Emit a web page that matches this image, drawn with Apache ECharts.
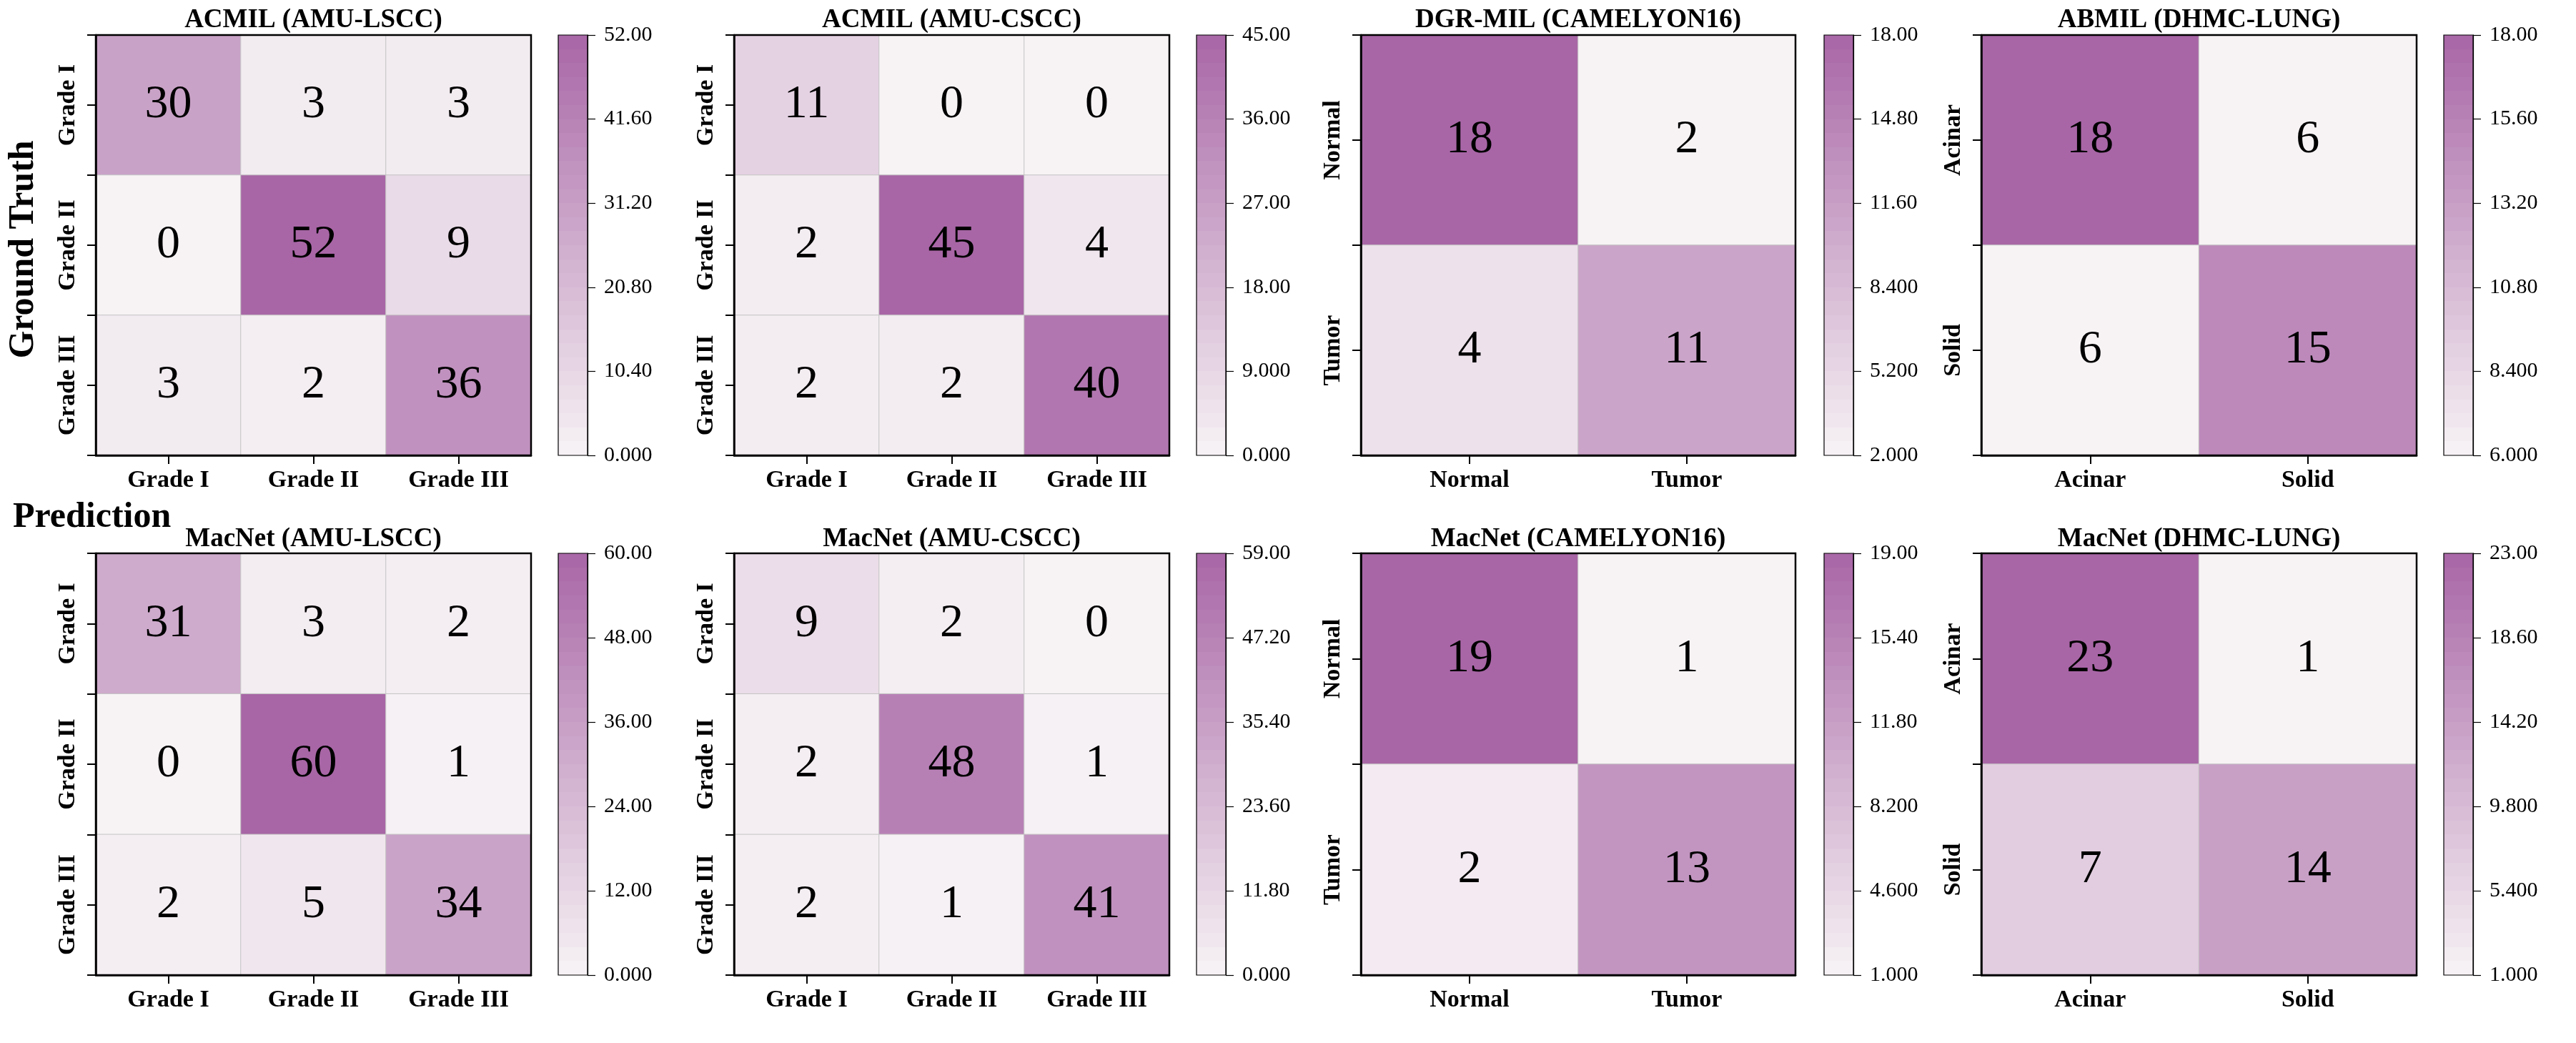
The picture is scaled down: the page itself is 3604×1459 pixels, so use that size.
<!DOCTYPE html>
<html>
<head>
<meta charset="utf-8">
<script src="https://cdn.jsdelivr.net/npm/echarts@6/dist/echarts.min.js"></script>
<style>
html,body{margin:0;padding:0;background:#ffffff;}
#c{width:3604px;height:1459px;}
</style>
</head>
<body>
<div id="c"></div>
<script>
// ---------------- data ----------------
const gradeLabels = ['Grade I', 'Grade II', 'Grade III'];
const camelyonLabels = ['Normal', 'Tumor'];
const lungLabels = ['Acinar', 'Solid'];

const panelTitles = [
  'ACMIL (AMU-LSCC)', 'ACMIL (AMU-CSCC)', 'DGR-MIL (CAMELYON16)', 'ABMIL (DHMC-LUNG)',
  'MacNet (AMU-LSCC)', 'MacNet (AMU-CSCC)', 'MacNet (CAMELYON16)', 'MacNet (DHMC-LUNG)'
];

const acmilLscc   = [[30, 3, 3], [0, 52, 9], [3, 2, 36]];
const acmilCscc   = [[11, 0, 0], [2, 45, 4], [2, 2, 40]];
const dgrmilCam   = [[18, 2], [4, 11]];
const abmilLung   = [[18, 6], [6, 15]];
const macnetLscc  = [[31, 3, 2], [0, 60, 1], [2, 5, 34]];
const macnetCscc  = [[9, 2, 0], [2, 48, 1], [2, 1, 41]];
const macnetCam   = [[19, 1], [2, 13]];
const macnetLung  = [[23, 1], [7, 14]];

const colorbarMin = [0, 0, 2, 6, 0, 0, 1, 1];
const colorbarMax = [52, 45, 18, 18, 60, 59, 19, 23];

const rowAxisTitles = ['Ground Truth', 'Prediction'];

// ---------------- layout / style ----------------
const matrices = [acmilLscc, acmilCscc, dgrmilCam, abmilLung, macnetLscc, macnetCscc, macnetCam, macnetLung];
const classLabels = [gradeLabels, gradeLabels, camelyonLabels, lungLabels, gradeLabels, gradeLabels, camelyonLabels, lungLabels];

const FONT = "'Liberation Serif','Times New Roman',serif";
const LIGHT = [247, 243, 245];
const DARK = [168, 102, 166];
function lerpColor(t) {
  const c = LIGHT.map((v, k) => Math.round(v + (DARK[k] - v) * t));
  return 'rgb(' + c.join(',') + ')';
}
const colLeft = [134, 1027, 1904, 2772];
const heatW = [609, 609, 608, 609];
const cbLeft = [781, 1674, 2552, 3419];
const cbW = 41;
const rowTop = [49, 774];
const rowH = [588, 590];
const titleY = [28, 754];

const grids = [], xAxes = [], yAxes = [], series = [], visualMaps = [], graphics = [];
const heatSeries = [], barSeries = [];

const NBANDS = 30;
const bandStops = [];
for (let k = 0; k < NBANDS; k++) {
  const col = lerpColor(1 - (k + 0.5) / NBANDS);
  bandStops.push({offset: k / NBANDS, color: col});
  bandStops.push({offset: (k + 1) / NBANDS, color: col});
}

for (let i = 0; i < 8; i++) {
  const row = Math.floor(i / 4), col = i % 4;
  const labels = classLabels[i];
  const m = matrices[i];

  // heatmap grid
  const gH = grids.length;
  grids.push({left: colLeft[col], top: rowTop[row], width: heatW[col], height: rowH[row],
    show: true, z: 5, borderColor: '#000', borderWidth: 2.5, backgroundColor: 'rgba(0,0,0,0)'});
  const xH = xAxes.length;
  xAxes.push({type: 'category', gridIndex: gH, data: labels, position: 'bottom', z: 6,
    axisLine: {show: true, lineStyle: {color: '#000', width: 2.5}},
    axisTick: {show: true, alignWithLabel: true, length: 12, lineStyle: {color: '#000', width: 2}},
    axisLabel: {fontFamily: FONT, fontWeight: 'bold', fontSize: 34, color: '#000', margin: 18},
    splitLine: {show: false}});
  const yH = yAxes.length;
  yAxes.push({type: 'category', gridIndex: gH, data: labels, inverse: true, position: 'left', z: 6,
    axisLine: {show: true, lineStyle: {color: '#000', width: 2.5}},
    axisTick: {show: true, alignWithLabel: true, length: 12, lineStyle: {color: '#000', width: 2}},
    axisLabel: {rotate: 90, fontFamily: FONT, fontWeight: 'bold', fontSize: 34, color: '#000', margin: 22},
    splitLine: {show: false}});
  yAxes.push({type: 'category', gridIndex: gH, data: labels, inverse: true, position: 'left', z: 6,
    axisLine: {show: false},
    axisTick: {show: true, length: 12, lineStyle: {color: '#000', width: 2}},
    axisLabel: {show: false}, splitLine: {show: false}});

  const data = [];
  for (let r = 0; r < m.length; r++) for (let c = 0; c < m[r].length; c++) data.push([c, r, m[r][c]]);
  heatSeries.push({type: 'heatmap', xAxisIndex: xH, yAxisIndex: yH, data: data, silent: true,
    label: {show: true, fontFamily: FONT, fontSize: 66, color: '#000'},
    itemStyle: {borderColor: '#c4c4c4', borderWidth: 1},
    emphasis: {disabled: true}});
  visualMaps.push({show: false, seriesIndex: i, dimension: 2, min: colorbarMin[i], max: colorbarMax[i],
    inRange: {color: [lerpColor(0), lerpColor(1)]}});

  // colorbar grid
  const gC = grids.length;
  grids.push({left: cbLeft[col], top: rowTop[row], width: cbW, height: rowH[row],
    show: true, z: 5, borderColor: '#000', borderWidth: 1.2, backgroundColor: 'rgba(0,0,0,0)'});
  const xC = xAxes.length;
  xAxes.push({type: 'category', gridIndex: gC, data: [''], show: false});
  const yC = yAxes.length;
  const lo = colorbarMin[i], hi = colorbarMax[i];
  yAxes.push({type: 'value', gridIndex: gC, position: 'right', min: lo, max: hi, interval: (hi - lo) / 5, z: 6,
    axisLine: {show: true, lineStyle: {color: '#000', width: 1.2}},
    axisTick: {show: true, length: 11, lineStyle: {color: '#000', width: 1.2}},
    axisLabel: {formatter: v => Number(v).toPrecision(4), fontFamily: FONT, fontSize: 30, color: '#000', margin: 23},
    splitLine: {show: false}});
  barSeries.push({type: 'bar', xAxisIndex: xC, yAxisIndex: yC, data: [hi], barWidth: '100%', silent: true,
    itemStyle: {color: new echarts.graphic.LinearGradient(0, 0, 0, 1, bandStops)}});

  // title
  graphics.push({type: 'text', left: null, x: colLeft[col] + heatW[col] / 2, y: titleY[row],
    style: {text: panelTitles[i], fontFamily: FONT, fontWeight: 'bold', fontSize: 37, fill: '#000',
      textAlign: 'center', textVerticalAlign: 'middle'}});
}

graphics.push({type: 'text', x: 33, y: 349, rotation: Math.PI / 2,
  style: {text: rowAxisTitles[0], fontFamily: FONT, fontWeight: 'bold', fontSize: 50, fill: '#000',
    textAlign: 'center', textVerticalAlign: 'middle'}});
graphics.push({type: 'text', x: 18, y: 724,
  style: {text: rowAxisTitles[1], fontFamily: FONT, fontWeight: 'bold', fontSize: 50, fill: '#000',
    textAlign: 'left', textVerticalAlign: 'middle'}});

const chart = echarts.init(document.getElementById('c'), null, {renderer: 'canvas'});
chart.setOption({
  animation: false,
  backgroundColor: '#ffffff',
  grid: grids,
  xAxis: xAxes,
  yAxis: yAxes,
  visualMap: visualMaps,
  series: heatSeries.concat(barSeries),
  graphic: graphics
});
</script>
</body>
</html>
